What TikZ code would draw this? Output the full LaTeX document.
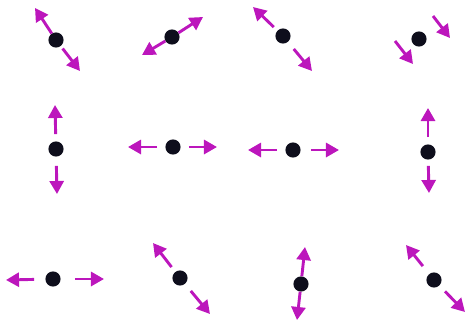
\documentclass[tikz,border=0pt]{standalone}
\usetikzlibrary{arrows.meta}
\definecolor{vibmag}{RGB}{188,22,188}
\definecolor{atomblk}{RGB}{14,14,28}
\begin{document}
\begin{tikzpicture}[x=0.35mm, y=-0.35mm,
    atom/.style={circle, fill=atomblk, inner sep=0pt, minimum size=5.3mm},
    vib/.style={draw=vibmag, line width=2.9pt, -{Triangle[length=13pt,width=14pt]}}]
  \useasboundingbox (0,0) rectangle (466,322);

  % Top row
  \node[atom] (a) at (56,40) {};
  \coordinate (a1) at (35,8);
  \coordinate (a2) at (80,71);
  \draw[vib] (a) -- (a1);
  \draw[vib, shorten <=3pt] (a) -- (a2);

  \node[atom] (b) at (172,37) {};
  \coordinate (b1) at (203,17);
  \coordinate (b2) at (142,55);
  \draw[vib] (b) -- (b1);
  \draw[vib] (b) -- (b2);

  \node[atom] (c) at (283,36) {};
  \coordinate (c1) at (253,7);
  \coordinate (c2) at (312,71);
  \draw[vib, shorten <=5pt] (c) -- (c1);
  \draw[vib, shorten <=9pt] (c) -- (c2);

  % both arrows point the same way here
  \node[atom] (d) at (419,39) {};
  \coordinate (d1) at (433,16);
  \coordinate (d2) at (450,38);
  \coordinate (d3) at (395,41);
  \coordinate (d4) at (413,64);
  \draw[vib] (d1) -- (d2);
  \draw[vib] (d3) -- (d4);

  % Middle row
  \node[atom] (e) at (56,149) {};
  \coordinate (e1) at (55,105);
  \coordinate (e2) at (57,194);
  \draw[vib, shorten <=7pt] (e) -- (e1);
  \draw[vib, shorten <=9pt] (e) -- (e2);

  \node[atom] (f) at (173,147) {};
  \coordinate (f1) at (128,147);
  \coordinate (f2) at (217,147);
  \draw[vib, shorten <=8pt] (f) -- (f1);
  \draw[vib, shorten <=8pt] (f) -- (f2);

  \node[atom] (g) at (293,150) {};
  \coordinate (g1) at (248,150);
  \coordinate (g2) at (339,150);
  \draw[vib, shorten <=8pt] (g) -- (g1);
  \draw[vib, shorten <=10pt] (g) -- (g2);

  \node[atom] (h) at (428,152) {};
  \coordinate (h1) at (428,108);
  \coordinate (h2) at (429,193);
  \draw[vib, shorten <=7pt] (h) -- (h1);
  \draw[vib, shorten <=6pt] (h) -- (h2);

  % Bottom row
  \node[atom] (i) at (53,279) {};
  \coordinate (i1) at (6,280);
  \coordinate (i2) at (104,279);
  \draw[vib, shorten <=11pt] (i) -- (i1);
  \draw[vib, shorten <=14pt] (i) -- (i2);

  \node[atom] (j) at (180,278) {};
  \coordinate (j1) at (153,243);
  \coordinate (j2) at (210,314);
  \draw[vib, shorten <=6pt] (j) -- (j1);
  \draw[vib, shorten <=9pt] (j) -- (j2);

  \node[atom] (k) at (301,284) {};
  \coordinate (k1) at (305,247);
  \coordinate (k2) at (297,320);
  \draw[vib] (k) -- (k1);
  \draw[vib] (k) -- (k2);

  \node[atom] (l) at (434,280) {};
  \coordinate (l1) at (406,245);
  \coordinate (l2) at (465,312);
  \draw[vib, shorten <=10pt] (l) -- (l1);
  \draw[vib, shorten <=8pt] (l) -- (l2);
\end{tikzpicture}
\end{document}
